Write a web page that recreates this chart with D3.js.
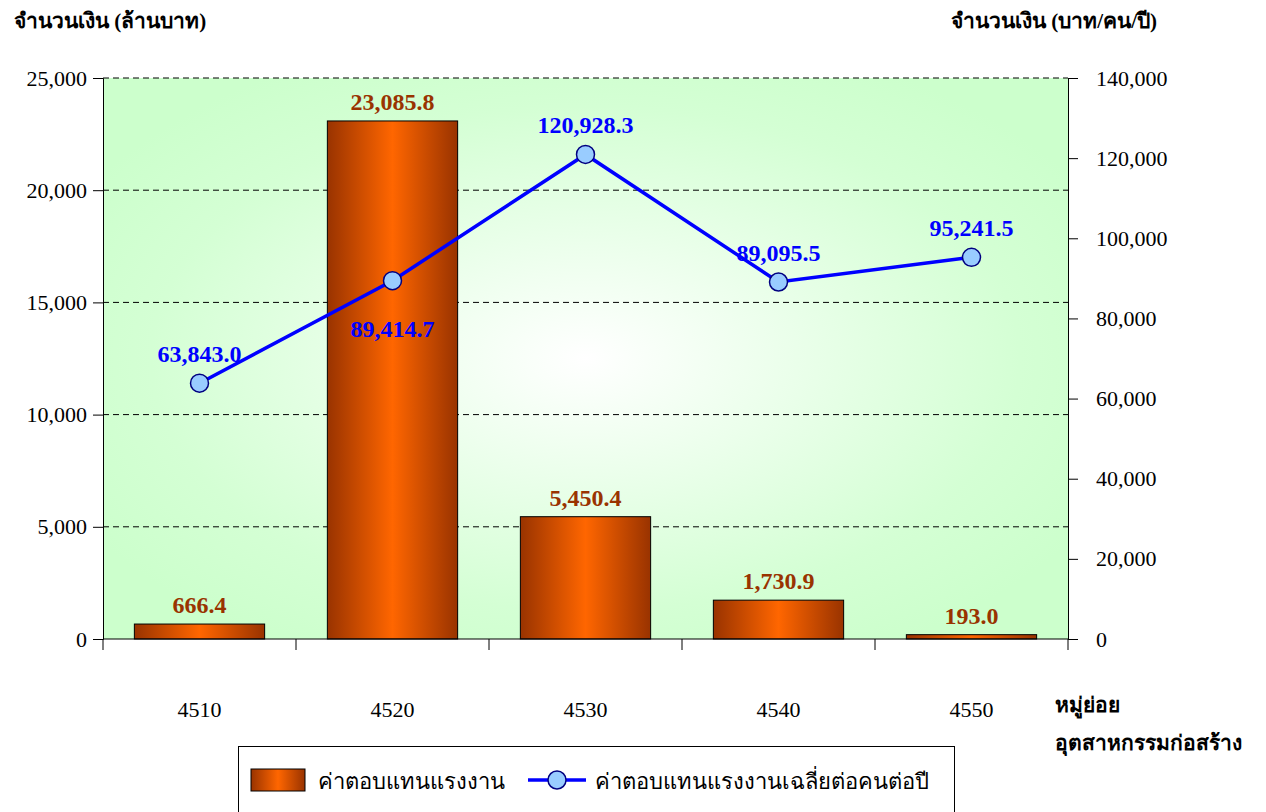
<!DOCTYPE html>
<head>
  <meta charset="utf-8">
  <script src="https://cdn.jsdelivr.net/npm/d3@7"></script>
  <style>
    body { margin: 0; background: #fff; }
    text { font-family: "Liberation Serif", "Times New Roman", serif; }
  </style>
</head>
<body>
  <div id="chart"></div>
  <script>
    // Data
    var categories = ["4510", "4520", "4530", "4540", "4550"];
    var wages = [666.4, 23085.8, 5450.4, 1730.9, 193.0];            // ล้านบาท
    var wagePerHead = [63843.0, 89414.7, 120928.3, 89095.5, 95241.5]; // บาท/คน/ปี
    var leftTicks = [0, 5000, 10000, 15000, 20000, 25000];
    var rightTicks = [0, 20000, 40000, 60000, 80000, 100000, 120000, 140000];

    var W = 1266, H = 812;
    var plot = {left: 103, right: 1068, top: 78, bottom: 639};

    var svg = d3.select("#chart").append("svg")
        .attr("width", W)
        .attr("height", H);

    var defs = svg.append("defs");

    // Plot background: white in the middle, pale green outside
    var bg = defs.append("radialGradient").attr("id", "bgGrad")
        .attr("cx", "50%").attr("cy", "50%").attr("r", "60%");
    bg.append("stop").attr("offset", "0%").attr("stop-color", "#ffffff");
    bg.append("stop").attr("offset", "75%").attr("stop-color", "#d4ffd4");
    bg.append("stop").attr("offset", "100%").attr("stop-color", "#ccffcc");

    // Bars: dark brown edges, orange in the centre
    var bar = defs.append("linearGradient").attr("id", "barGrad")
        .attr("x1", "0%").attr("x2", "100%").attr("y1", "0%").attr("y2", "0%");
    bar.append("stop").attr("offset", "0%").attr("stop-color", "#993300");
    bar.append("stop").attr("offset", "50%").attr("stop-color", "#ff6600");
    bar.append("stop").attr("offset", "100%").attr("stop-color", "#993300");

    var x = d3.scaleBand().domain(categories)
        .range([plot.left, plot.right]).paddingInner(0).paddingOuter(0);
    var yL = d3.scaleLinear().domain([0, 25000]).range([plot.bottom, plot.top]);
    var yR = d3.scaleLinear().domain([0, 140000]).range([plot.bottom, plot.top]);
    var fmt = d3.format(",.1f");
    var fmtTick = d3.format(",");

    svg.append("rect")
        .attr("x", plot.left).attr("y", plot.top)
        .attr("width", plot.right - plot.left)
        .attr("height", plot.bottom - plot.top)
        .attr("fill", "url(#bgGrad)");

    // Dashed grid lines
    svg.append("g").selectAll("line")
        .data(leftTicks.filter(function(d) { return d > 0; }))
        .enter().append("line")
        .attr("x1", plot.left).attr("x2", plot.right)
        .attr("y1", function(d) { return yL(d); })
        .attr("y2", function(d) { return yL(d); })
        .attr("stroke", "#000")
        .attr("stroke-width", 1)
        .attr("stroke-dasharray", "6,4");

    // Bars
    var barW = x.bandwidth() * 0.675;
    svg.append("g").selectAll("rect")
        .data(wages)
        .enter().append("rect")
        .attr("x", function(d, i) { return x(categories[i]) + (x.bandwidth() - barW) / 2; })
        .attr("y", function(d) { return yL(d); })
        .attr("width", barW)
        .attr("height", function(d) { return plot.bottom - yL(d); })
        .attr("fill", "url(#barGrad)")
        .attr("stroke", "#000")
        .attr("stroke-width", 1);

    svg.append("g").selectAll("text")
        .data(wages)
        .enter().append("text")
        .attr("x", function(d, i) { return x(categories[i]) + x.bandwidth() / 2; })
        .attr("y", function(d) { return yL(d) - 11; })
        .attr("text-anchor", "middle")
        .attr("font-size", 24)
        .attr("font-weight", "bold")
        .attr("fill", "#993300")
        .text(function(d) { return fmt(d); });

    // Axes
    var axL = svg.append("g")
        .attr("transform", "translate(" + plot.left + ",0)")
        .call(d3.axisLeft(yL).tickValues(leftTicks).tickFormat(fmtTick).tickSizeOuter(0).tickSize(10).tickPadding(6));
    var axR = svg.append("g")
        .attr("transform", "translate(" + plot.right + ",0)")
        .call(d3.axisRight(yR).tickValues(rightTicks).tickFormat(fmtTick).tickSizeOuter(0).tickSize(10).tickPadding(18));
    [axL, axR].forEach(function(ax) {
        ax.selectAll("text").attr("font-size", 22).attr("fill", "#000")
            .style("font-family", "'Liberation Serif', serif");
        ax.selectAll("line, path").attr("stroke", "#000");
    });

    // Category axis with ticks between categories
    var bounds = categories.map(function(c) { return x(c); }).concat([plot.right]);
    var axB = svg.append("g");
    axB.append("line")
        .attr("x1", plot.left).attr("x2", plot.right)
        .attr("y1", plot.bottom).attr("y2", plot.bottom)
        .attr("stroke", "#000");
    axB.selectAll("line.tick").data(bounds).enter().append("line")
        .attr("class", "tick")
        .attr("x1", function(d) { return d; }).attr("x2", function(d) { return d; })
        .attr("y1", plot.bottom).attr("y2", plot.bottom + 11)
        .attr("stroke", "#000");
    axB.selectAll("text").data(categories).enter().append("text")
        .attr("x", function(d) { return x(d) + x.bandwidth() / 2; })
        .attr("y", 717)
        .attr("text-anchor", "middle")
        .attr("font-size", 22)
        .text(function(d) { return d; });

    // Line series on the right axis
    var line = d3.line()
        .x(function(d, i) { return x(categories[i]) + x.bandwidth() / 2; })
        .y(function(d) { return yR(d); });
    svg.append("path")
        .datum(wagePerHead)
        .attr("d", line)
        .attr("fill", "none")
        .attr("stroke", "#0000ff")
        .attr("stroke-width", 3.5);
    svg.append("g").selectAll("circle")
        .data(wagePerHead)
        .enter().append("circle")
        .attr("cx", function(d, i) { return x(categories[i]) + x.bandwidth() / 2; })
        .attr("cy", function(d) { return yR(d); })
        .attr("r", 9)
        .attr("fill", "#99ccff")
        .attr("stroke", "#000080")
        .attr("stroke-width", 1.5);
    svg.append("g").selectAll("text")
        .data(wagePerHead)
        .enter().append("text")
        .attr("x", function(d, i) { return x(categories[i]) + x.bandwidth() / 2; })
        .attr("y", function(d, i) { return i === 1 ? yR(d) + 56 : yR(d) - 21; })
        .attr("text-anchor", "middle")
        .attr("font-size", 24)
        .attr("font-weight", "bold")
        .attr("fill", "#0000ff")
        .text(function(d) { return fmt(d); });

    // Axis titles
    svg.append("text").attr("x", 14).attr("y", 28)
        .attr("font-size", 21).attr("font-weight", "bold")
        .text("จำนวนเงิน (ล้านบาท)");
    svg.append("text").attr("x", 1157).attr("y", 28)
        .attr("text-anchor", "end")
        .attr("font-size", 21).attr("font-weight", "bold")
        .text("จำนวนเงิน (บาท/คน/ปี)");
    svg.append("text").attr("x", 1055).attr("y", 712)
        .attr("font-size", 21).attr("font-weight", "bold")
        .text("หมู่ย่อย");
    svg.append("text").attr("x", 1055).attr("y", 750)
        .attr("font-size", 21).attr("font-weight", "bold")
        .text("อุตสาหกรรมก่อสร้าง");

    // Legend
    var lg = svg.append("g");
    lg.append("rect")
        .attr("x", 238.5).attr("y", 746.5)
        .attr("width", 716).attr("height", 70)
        .attr("fill", "#fff").attr("stroke", "#000");
    lg.append("rect")
        .attr("x", 251).attr("y", 769)
        .attr("width", 54).attr("height", 22)
        .attr("fill", "url(#barGrad)").attr("stroke", "#000");
    lg.append("text")
        .attr("x", 318).attr("y", 789)
        .attr("font-size", 22)
        .style("font-family", "'Noto Sans', 'DejaVu Sans', sans-serif")
        .text("ค่าตอบแทนแรงงาน");
    lg.append("line")
        .attr("x1", 528).attr("x2", 586)
        .attr("y1", 780).attr("y2", 780)
        .attr("stroke", "#0000ff").attr("stroke-width", 3.5);
    lg.append("circle")
        .attr("cx", 557).attr("cy", 780).attr("r", 9)
        .attr("fill", "#99ccff").attr("stroke", "#000080").attr("stroke-width", 1.5);
    lg.append("text")
        .attr("x", 595).attr("y", 789)
        .attr("font-size", 22)
        .style("font-family", "'Noto Sans', 'DejaVu Sans', sans-serif")
        .text("ค่าตอบแทนแรงงานเฉลี่ยต่อคนต่อปี");
  </script>
</body>
